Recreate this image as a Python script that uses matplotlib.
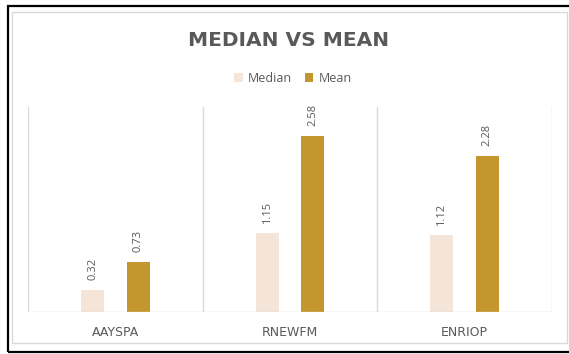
import matplotlib.pyplot as plt
from matplotlib.patches import Rectangle
import numpy as np

categories = ["AAYSPA", "RNEWFM", "ENRIOP"]
median_vals = [0.32, 1.15, 1.12]
mean_vals = [0.73, 2.58, 2.28]
series_names = ["Median", "Mean"]

median_color = "#F5E4D8"
mean_color = "#C3962E"
text_color = "#595959"
grid_color = "#D9D9D9"

plt.rcParams['font.family'] = ['Open Sans', 'DejaVu Sans']

fig = plt.figure(figsize=(5.69, 3.54), dpi=100)

# frame around the picture (screenshot border + chart area border)
fig.patches.append(Rectangle((8 / 569, 2 / 354), 1.2, 346 / 354, transform=fig.transFigure,
                             fill=False, edgecolor="black", linewidth=1.6))
fig.patches.append(Rectangle((12 / 569, 11 / 354), 555 / 569, 331 / 354, transform=fig.transFigure,
                             fill=False, edgecolor="#D9D9D9", linewidth=1.0))

ax = fig.add_axes([28 / 569, 42 / 354, 524 / 569, 205 / 354])

x = np.arange(len(categories))
w = 0.132
off = 0.13
b1 = ax.bar(x - off, median_vals, w, color=median_color, label=series_names[0])
b2 = ax.bar(x + off, mean_vals, w, color=mean_color, label=series_names[1])

for bars, vals in [(b1, median_vals), (b2, mean_vals)]:
    for rect, v in zip(bars, vals):
        ax.annotate(f"{v:.2f}", (rect.get_x() + rect.get_width() / 2, v),
                    xytext=(0, 7), textcoords="offset points", rotation=90,
                    ha="center", va="bottom", fontsize=8, color=text_color)

ax.set_xlim(-0.5, len(categories) - 0.5)
ax.set_ylim(0, 3)

# category separators
for s in np.arange(-0.5, len(categories), 1.0):
    ax.axvline(s, color=grid_color, linewidth=1.0, zorder=0)

for sp in ax.spines.values():
    sp.set_visible(False)
ax.axhline(0, color=grid_color, linewidth=1.0, zorder=3)

ax.set_yticks([])
ax.set_xticks(x)
ax.set_xticklabels(categories, fontsize=9, color=text_color, family="DejaVu Sans")
ax.tick_params(axis="x", length=0, pad=10)

fig.text(289 / 569, 1 - 40 / 354, "MEDIAN VS MEAN", ha="center", va="center",
         fontsize=14.5, fontweight="bold", color=text_color, family="DejaVu Sans")

fig.legend(handles=[b1, b2], labels=series_names, loc="center",
           bbox_to_anchor=(293 / 569, 1 - 78 / 354), ncol=2, frameon=False,
           fontsize=9, labelcolor=text_color, handlelength=0.7, handleheight=0.7,
           handletextpad=0.4, columnspacing=1.0)

fig.savefig("out.png", dpi=100)
